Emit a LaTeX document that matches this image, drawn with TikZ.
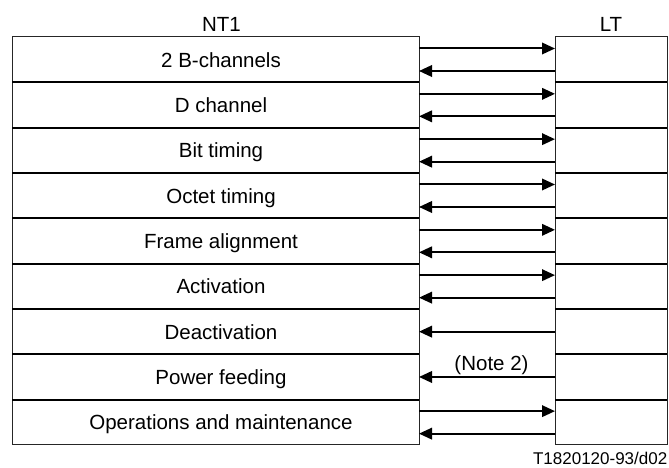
\documentclass[tikz,border=0pt]{standalone}
\usepackage{fontspec}
\setmainfont{Liberation Sans}
\usetikzlibrary{arrows.meta}
\begin{document}
\begin{tikzpicture}[x=1pt,y=-1pt,
  txt/.style={font=\fontsize{20.5}{24}\selectfont, inner sep=0pt, anchor=base},
  ntcell/.style={rectangle, minimum width=407pt, minimum height=45.33pt, inner sep=0pt, outer sep=0pt},
  ltcell/.style={rectangle, minimum width=112pt, minimum height=45.33pt, inner sep=0pt, outer sep=0pt},
  border/.style={line width=1pt, black!85},
  divider/.style={line width=2pt, black},
  arr/.style={line width=2pt, -{Triangle[length=13pt,width=11.5pt]}}]
\useasboundingbox (0,0) rectangle (669,468);
\foreach \i in {1,...,9}{
  \node[ntcell] (r\i) at (215.5, {37+(\i-0.5)*45.33}) {};
  \node[ltcell] (l\i) at (611, {37+(\i-0.5)*45.33}) {};
}
% outer borders
\draw[border] (r1.north west) rectangle (r9.south east);
\draw[border] (l1.north west) rectangle (l9.south east);
% dividers
\foreach \i in {1,...,8}{
  \draw[divider] (r\i.south west) -- (r\i.south east);
  \draw[divider] (l\i.south west) -- (l\i.south east);
}
% row texts
\foreach \i/\t in {1/2 B-channels, 2/D channel, 3/Bit timing, 4/Octet timing, 5/Frame alignment, 6/Activation, 7/Deactivation, 8/Power feeding, 9/Operations and maintenance}{
  \node[txt] (t\i) at ([xshift=5.5pt,yshift=-7.4pt]r\i.center) {\t};
}
% headings
\node[txt] (nt1) at (221.5, 31.5) {NT1};
\node[txt] (lt) at (611, 31.5) {LT};
% arrows
\foreach \i in {1,2,3,4,5,6,9}{
  \draw[arr] ([yshift=-11.5pt]r\i.north east) -- ([yshift=-11.5pt]l\i.north west);
  \draw[arr] ([yshift=-34pt]l\i.north west) -- ([yshift=-34pt]r\i.north east);
}
\draw[arr] (l7.west) -- (r7.east);
\draw[arr] (l8.west) -- (r8.east);
\node[txt] (note) at (491.5, 370.5) {(Note 2)};
\node[txt, anchor=base east, font=\fontsize{17}{20}\selectfont] (ref) at (667.5, 464) {T1820120-93/d02};
\end{tikzpicture}
\end{document}
